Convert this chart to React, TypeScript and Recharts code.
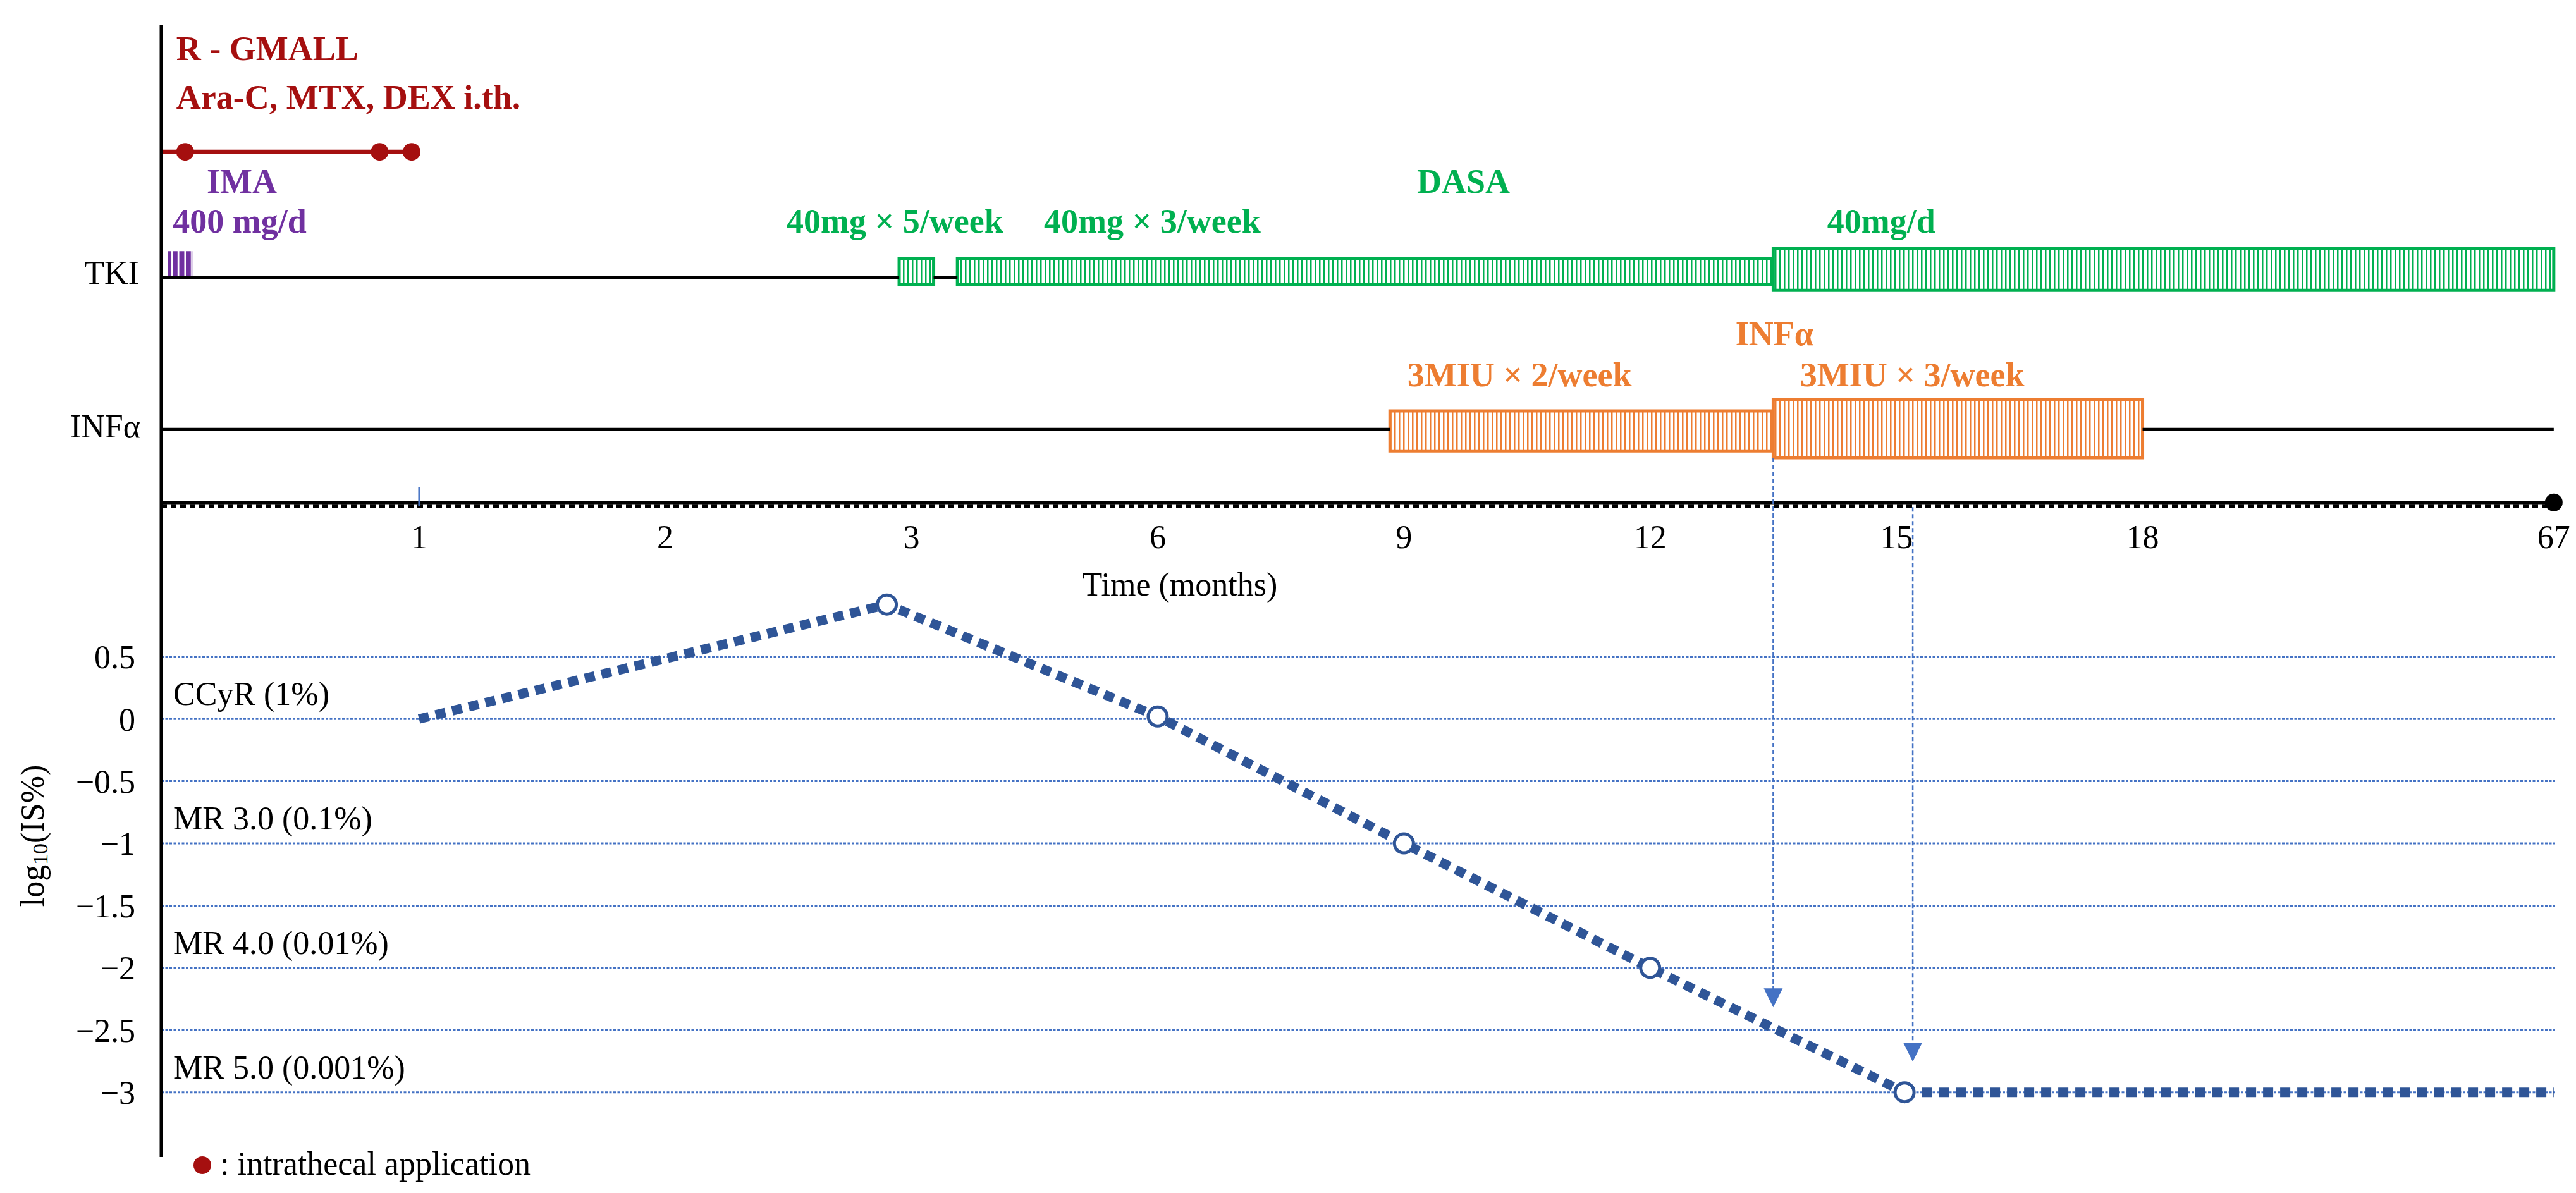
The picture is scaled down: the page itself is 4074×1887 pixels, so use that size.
import React from 'react';
import {
  ComposedChart, Line, XAxis, YAxis,
  ReferenceLine, ReferenceArea, ReferenceDot, Legend,
} from 'recharts';

const W = 4074;
const H = 1887;
const SERIF = '"Liberation Serif", "Times New Roman", Times, serif';
const FS = 52;
const FS_BOLD = 54;

const RED = '#A50F0F';
const PURPLE = '#7030A0';
const GREEN = '#00B050';
const ORANGE = '#ED7D31';
const BLUE = '#4472C4';
const NAVY = '#2F5597';

// broken time axis: months -> slot on the axis
const AXIS_MONTHS = [0, 1, 2, 3, 6, 9, 12, 15, 18, 67];
const AXIS_SLOTS = [0, 1, 2, 3, 4, 5, 6, 7, 8, 9.67];
const TICK_MONTHS = [1, 2, 3, 6, 9, 12, 15, 18, 67];
const TICK_LABELS = ['1', '2', '3', '6', '9', '12', '15', '18', '67'];

// BCR-ABL (log10 IS%)
const QPCR_MONTHS = [1, 2.9, 6, 9, 12, 15.1];
const QPCR_LOG = [0, 0.92, 0.02, -1, -2, -3];
const FOLLOW_MONTHS = [15.1, 67];
const FOLLOW_LOG = [-3, -3];

const Y_TICKS = [-3, -2.5, -2, -1.5, -1, -0.5, 0, 0.5];
const RESPONSE_LEVELS = [0, -1, -2, -3];
const RESPONSE_LABELS = ['CCyR (1%)', 'MR 3.0 (0.1%)', 'MR 4.0 (0.01%)', 'MR 5.0 (0.001%)'];

// treatments (months)
const RGMALL_END = 0.97;
const INTRATHECAL_MONTHS = [0.05, 0.84, 0.97];
const IMA_PERIOD = [-0.02, 0.08];
const DASA_PERIODS = [[2.95, 3.27], [3.56, 13.5], [13.5, 67]];
const DASA_LABELS = ['40mg \u00d7 5/week', '40mg \u00d7 3/week', '40mg/d'];
const INF_PERIODS = [[8.83, 13.5], [13.5, 18]];
const INF_LABELS = ['3MIU \u00d7 2/week', '3MIU \u00d7 3/week'];
const SWITCH_MONTHS = [13.5, 15.2];

const toPos = (m: number) => {
  for (let i = 1; i < AXIS_MONTHS.length; i++) {
    if (m <= AXIS_MONTHS[i] || i === AXIS_MONTHS.length - 1) {
      const m0 = AXIS_MONTHS[i - 1], m1 = AXIS_MONTHS[i];
      const s0 = AXIS_SLOTS[i - 1], s1 = AXIS_SLOTS[i];
      return s0 + ((m - m0) / (m1 - m0)) * (s1 - s0);
    }
  }
  return m;
};

// layout (axis units)
const X_MIN = -0.047;
const X_MAX = 9.673;
const Y_MIN = -3.52;
const Y_MAX = 5.58;
const ROW_RED = 4.558;
const ROW_TKI = 3.547;
const ROW_INF = 2.327;
const TIME_Y = 1.74;
const TIME_CHECK_Y = 1.712;
const IMA_BOX = [3.547, 3.76];
const DASA_BOX = [[3.49, 3.7], [3.49, 3.7], [3.445, 3.78]];
const INF_BOX = [[2.154, 2.475], [2.099, 2.566]];
const DASA_TEXT = [[2.493, 3.907], [3.538, 3.907], [6.719, 3.907]];
const INF_TEXT = [[5.014, 2.673], [6.609, 2.673]];
const ARROW_TOP = [2.099, 1.702];
const ARROW_TIP = [-2.317, -2.754];

const qpcr = QPCR_MONTHS.map((m, i) => ({ pos: toPos(m), v: QPCR_LOG[i] }));
const follow = FOLLOW_MONTHS.map((m, i) => ({ pos: toPos(m), v: FOLLOW_LOG[i] }));

const gaps = (periods: number[][], end: number) => {
  const out: number[][] = [];
  let cur = X_MIN;
  periods.forEach(([a, b]) => {
    if (toPos(a) > cur) out.push([cur, toPos(a)]);
    cur = Math.max(cur, toPos(b));
  });
  if (cur < toPos(end)) out.push([cur, toPos(end)]);
  return out;
};

type NoteOpts = { color?: string; bold?: boolean; anchor?: string; dx?: number; dy?: number };
const note = (key: string, x: number, y: number, text: React.ReactNode, o: NoteOpts = {}) => (
  <ReferenceDot
    key={key}
    x={x}
    y={y}
    r={1}
    ifOverflow="visible"
    shape={(p: any) => (
      <text
        x={p.cx + (o.dx || 0)}
        y={p.cy + (o.dy || 0)}
        fill={o.color || '#000'}
        fontFamily={SERIF}
        fontSize={o.bold ? FS_BOLD : FS}
        fontWeight={o.bold ? 700 : 400}
        textAnchor={(o.anchor as any) || 'start'}
      >
        {text}
      </text>
    )}
  />
);

const renderMarker = (p: any) =>
  p.index === 0 ? (
    <g key={`m-${p.index}`} />
  ) : (
    <circle key={`m-${p.index}`} cx={p.cx} cy={p.cy} r={15} fill="#fff" stroke={NAVY} strokeWidth={5} />
  );

const renderYLabel = () => (
  <text
    x={51}
    y={1322}
    transform="rotate(-90 51 1322)"
    textAnchor="middle"
    dominantBaseline="central"
    fontFamily={SERIF}
    fontSize={FS}
    fill="#000"
  >
    log<tspan fontSize={34} dy={12}>10</tspan>
    <tspan dy={-12}>(IS%)</tspan>
  </text>
);

const fmtTick = (v: number) => (v < 0 ? '\u2212' + Math.abs(v) : String(v));

export default function App() {
  return (
    <div style={{ position: 'absolute', left: 0, top: 0, width: W, height: H, background: '#fff' }}>
      <ComposedChart
        width={W}
        height={H}
        margin={{ top: 39, right: 34, bottom: 57, left: 0 }}
        style={{ fontFamily: SERIF }}
      >
        <defs>
          <pattern id="stripeGreen" width={7} height={10} patternUnits="userSpaceOnUse">
            <rect width={7} height={10} fill="#fff" />
            <rect width={2.5} height={10} fill={GREEN} />
          </pattern>
          <pattern id="stripeOrange" width={7} height={10} patternUnits="userSpaceOnUse">
            <rect width={7} height={10} fill="#fff" />
            <rect width={2.5} height={10} fill={ORANGE} />
          </pattern>
          <pattern id="stripePurple" width={10.5} height={10} patternUnits="userSpaceOnUse">
            <rect width={10.5} height={10} fill="#fff" />
            <rect width={8} height={10} fill={PURPLE} />
          </pattern>
        </defs>

        <XAxis type="number" dataKey="pos" domain={[X_MIN, X_MAX]} allowDataOverflow hide />
        <YAxis
          type="number"
          domain={[Y_MIN, Y_MAX]}
          ticks={Y_TICKS}
          allowDataOverflow
          width={255}
          axisLine={{ stroke: '#000', strokeWidth: 5 }}
          tickLine={false}
          tickMargin={35}
          tickFormatter={fmtTick}
          tick={{ fill: '#000', fontSize: FS, fontFamily: SERIF }}
          label={renderYLabel}
        />

        {/* horizontal grid at the log ticks */}
        {Y_TICKS.map((t) => (
          <ReferenceLine key={`g-${t}`} y={t} stroke={BLUE} strokeWidth={3} strokeDasharray="4 2.5" />
        ))}

        {/* R-GMALL with intrathecal applications */}
        <ReferenceLine
          segment={[{ x: X_MIN, y: ROW_RED }, { x: toPos(RGMALL_END), y: ROW_RED }]}
          stroke={RED}
          strokeWidth={7}
        />
        {INTRATHECAL_MONTHS.map((m, i) => (
          <ReferenceDot key={`it-${i}`} x={toPos(m)} y={ROW_RED} r={14} fill={RED} stroke="none" />
        ))}
        {note('rg1', 0.014, 5.295, 'R - GMALL', { color: RED, bold: true })}
        {note('rg2', 0.014, 4.903, 'Ara-C, MTX, DEX i.th.', { color: RED, bold: true })}

        {/* TKI row */}
        {gaps(DASA_PERIODS, 67).map(([a, b], i) => (
          <ReferenceLine key={`tki-${i}`} segment={[{ x: a, y: ROW_TKI }, { x: b, y: ROW_TKI }]} stroke="#000" strokeWidth={5} />
        ))}
        <ReferenceArea
          x1={toPos(IMA_PERIOD[0])}
          x2={toPos(IMA_PERIOD[1])}
          y1={IMA_BOX[0]}
          y2={IMA_BOX[1]}
          fill="url(#stripePurple)"
          fillOpacity={1}
          stroke="none"
        />
        {note('ima1', 0.138, 4.228, 'IMA', { color: PURPLE, bold: true })}
        {note('ima2', 0.0, 3.907, '400 mg/d', { color: PURPLE, bold: true })}
        {DASA_PERIODS.map(([a, b], i) => (
          <ReferenceArea
            key={`dasa-${i}`}
            x1={toPos(a)}
            x2={toPos(b)}
            y1={DASA_BOX[i][0]}
            y2={DASA_BOX[i][1]}
            fill="url(#stripeGreen)"
            fillOpacity={1}
            stroke={GREEN}
            strokeWidth={5}
          />
        ))}
        {note('dasa', 5.053, 4.228, 'DASA', { color: GREEN, bold: true })}
        {DASA_LABELS.map((t, i) => note(`dl-${i}`, DASA_TEXT[i][0], DASA_TEXT[i][1], t, { color: GREEN, bold: true }))}
        {note('rowTki', X_MIN, ROW_TKI, 'TKI', { anchor: 'end', dx: -35, dy: 10 })}

        {/* INF row */}
        {gaps(INF_PERIODS, 67).map(([a, b], i) => (
          <ReferenceLine key={`inf-${i}`} segment={[{ x: a, y: ROW_INF }, { x: b, y: ROW_INF }]} stroke="#000" strokeWidth={5} />
        ))}
        {INF_PERIODS.map(([a, b], i) => (
          <ReferenceArea
            key={`infb-${i}`}
            x1={toPos(a)}
            x2={toPos(b)}
            y1={INF_BOX[i][0]}
            y2={INF_BOX[i][1]}
            fill="url(#stripeOrange)"
            fillOpacity={1}
            stroke={ORANGE}
            strokeWidth={5}
          />
        ))}
        {note('infT', 6.347, 3.003, 'INF\u03b1', { color: ORANGE, bold: true })}
        {INF_LABELS.map((t, i) => note(`il-${i}`, INF_TEXT[i][0], INF_TEXT[i][1], t, { color: ORANGE, bold: true }))}
        {note('rowInf', X_MIN, ROW_INF, 'INF\u03b1', { anchor: 'end', dx: -33, dy: 13 })}

        {/* time axis */}
        <ReferenceLine y={TIME_Y} stroke="#000" strokeWidth={5.5} />
        <ReferenceLine y={TIME_CHECK_Y} stroke="#000" strokeWidth={6} strokeDasharray="9 6" />
        <ReferenceLine
          segment={[{ x: toPos(1), y: 1.865 }, { x: toPos(1), y: TIME_CHECK_Y }]}
          stroke={BLUE}
          strokeWidth={2.5}
        />
        <ReferenceDot x={toPos(67)} y={TIME_Y} r={14} fill="#000" stroke="none" />
        {TICK_MONTHS.map((m, i) => note(`tk-${i}`, toPos(m), TIME_Y, TICK_LABELS[i], { anchor: 'middle', dy: 72 }))}
        {note('ttl', 4.09, 0.991, 'Time (months)', { anchor: 'middle' })}

        {/* response levels */}
        {RESPONSE_LEVELS.map((lv, i) => note(`rl-${i}`, X_MIN, lv, RESPONSE_LABELS[i], { dx: 19, dy: -22 }))}

        {/* switch arrows */}
        {SWITCH_MONTHS.map((m, i) => (
          <ReferenceLine
            key={`ar-${i}`}
            segment={[{ x: toPos(m), y: ARROW_TOP[i] }, { x: toPos(m), y: ARROW_TIP[i] + 0.14 }]}
            stroke={BLUE}
            strokeWidth={2.5}
            strokeDasharray="7 4"
          />
        ))}
        {SWITCH_MONTHS.map((m, i) => (
          <ReferenceDot
            key={`ah-${i}`}
            x={toPos(m)}
            y={ARROW_TIP[i]}
            r={1}
            shape={(p: any) => (
              <path d={`M${p.cx - 15},${p.cy - 30}L${p.cx + 15},${p.cy - 30}L${p.cx},${p.cy}Z`} fill={BLUE} />
            )}
          />
        ))}

        <Line
          data={follow}
          dataKey="v"
          type="linear"
          stroke={NAVY}
          strokeWidth={15}
          strokeDasharray="16 11"
          dot={false}
          activeDot={false}
          isAnimationActive={false}
        />
        <Line
          data={qpcr}
          dataKey="v"
          type="linear"
          stroke={NAVY}
          strokeWidth={15}
          strokeDasharray="16 11"
          dot={renderMarker}
          activeDot={false}
          isAnimationActive={false}
        />

        <Legend
          layout="horizontal"
          verticalAlign="middle"
          align="center"
          wrapperStyle={{ left: 300, top: 1812, width: 620, height: 60 }}
          content={() => (
            <svg width={620} height={60}>
              <circle cx={20} cy={31} r={14} fill={RED} />
              <text x={48} y={46} fontFamily={SERIF} fontSize={FS} fill="#000">
                : intrathecal application
              </text>
            </svg>
          )}
        />
      </ComposedChart>
    </div>
  );
}
